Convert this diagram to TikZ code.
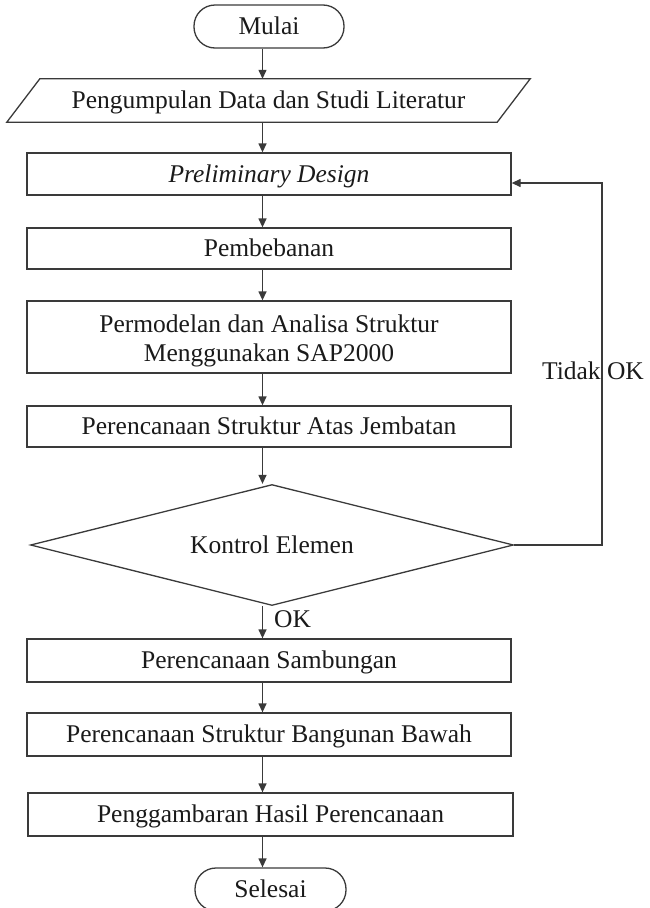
\documentclass[tikz,border=0pt]{standalone}
\usepackage{fontspec}
\setmainfont{Liberation Serif}
\usetikzlibrary{arrows.meta,shapes.geometric,calc}
\definecolor{linec}{HTML}{3A3A3A}
\definecolor{textc}{HTML}{1A1A1A}
\tikzset{
  every node/.style={font=\fontsize{25.5}{29}\selectfont, text=textc, inner sep=0pt},
  onel/.style={text height=16.5pt, text depth=0pt},
  procbox/.style={draw=linec, line width=1.3pt, rectangle, minimum width=484pt, minimum height=42pt, onel},
  termbox/.style={draw=linec, line width=1.3pt, rectangle, rounded corners=21pt, minimum width=150pt, minimum height=43pt, onel},
  decbox/.style={draw=linec, line width=1.3pt, diamond, aspect=4, minimum width=483pt, minimum height=121pt, onel},
  conn/.style={draw=linec, line width=1.3pt, -{Triangle[length=9pt,width=8pt]}},
  plain/.style={draw=linec, line width=1.3pt}
}
\begin{document}
\begin{tikzpicture}[x=1pt,y=-1pt]
\useasboundingbox (0,0) rectangle (649,908);
\coordinate (ax) at (262.5,0);

\node[termbox] (start) at (269,26.5) {Mulai};
\node[onel, minimum width=490pt, minimum height=43pt] (data) at (268.5,100.5) {Pengumpulan Data dan Studi Literatur};
\draw[plain] ([xshift=-16.5pt]data.south west) -- ([xshift=16.5pt]data.north west) -- ([xshift=16.5pt]data.north east) -- ([xshift=-16.5pt]data.south east) -- cycle;
\node[procbox] (pre) at (269,174) {\textit{Preliminary Design}};
\node[procbox, minimum height=41pt] (beban) at (269,248.5) {Pembebanan};
\node[procbox, minimum height=72pt] (model) at (269,337) {};
\node[align=center, anchor=base] (modeltxt) at ([yshift=-24pt]model.center) {Permodelan dan Analisa Struktur\\Menggunakan SAP2000};
\node[procbox, minimum height=41pt] (atas) at (269,426.5) {Perencanaan Struktur Atas Jembatan};
\node[decbox] (kontrol) at (272,545) {Kontrol Elemen};
\node[procbox, minimum height=43pt] (samb) at (269,660.5) {Perencanaan Sambungan};
\node[procbox, minimum height=43pt] (bawah) at (269,734.5) {Perencanaan Struktur Bangunan Bawah};
\node[procbox, minimum width=485pt, minimum height=43pt] (gambar) at (270.5,814.5) {Penggambaran Hasil Perencanaan};
\node[termbox, minimum width=151pt] (end) at (270.5,889.5) {Selesai};

\draw[conn] (start.south -| ax) -- (data.north -| ax);
\draw[conn] (data.south -| ax) -- (pre.north -| ax);
\draw[conn] (pre.south -| ax) -- (beban.north -| ax);
\draw[conn] (beban.south -| ax) -- (model.north -| ax);
\draw[conn] (model.south -| ax) -- (atas.north -| ax);
\draw[conn] (atas.south -| ax) -- (kontrol.north -| ax);
\draw[conn] (kontrol.south -| ax) -- (samb.north -| ax);
\draw[conn] (samb.south -| ax) -- (bawah.north -| ax);
\draw[conn] (bawah.south -| ax) -- (gambar.north -| ax);
\draw[conn] (gambar.south -| ax) -- (end.north -| ax);

\coordinate (fb) at (602,183);
\draw[conn] (kontrol.east) -| (fb) -- (fb -| pre.east);

\node[anchor=base] (tidak) at (593,379) {Tidak OK};
\node[anchor=base west] (ok) at (274,627) {OK};
\end{tikzpicture}
\end{document}
